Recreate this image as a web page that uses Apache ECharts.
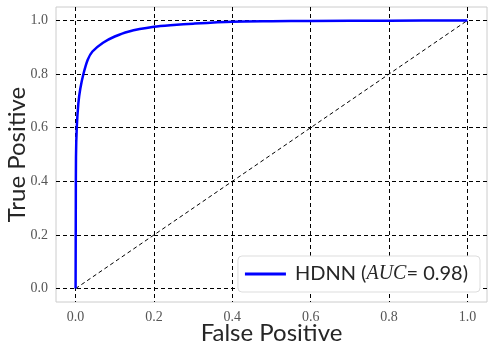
<!DOCTYPE html>
<html>
<head>
<meta charset="utf-8">
<script src="https://cdn.jsdelivr.net/npm/echarts@6/dist/echarts.min.js"></script>
<style>
  html, body { margin: 0; padding: 0; background: #fff; }
  #chart { width: 496px; height: 352px; }
</style>
</head>
<body>
<div id="chart"></div>
<script>
// ROC curve
var fpr = [0, 0.0005, 0.001, 0.003, 0.007, 0.012, 0.02, 0.031, 0.043, 0.07, 0.1, 0.134, 0.2, 0.25, 0.3, 0.4, 0.5, 0.6, 0.8, 1];
var tpr = [0, 0.3, 0.49, 0.6, 0.69, 0.745, 0.8, 0.853, 0.884, 0.917, 0.94, 0.958, 0.976, 0.983, 0.988, 0.995, 0.997, 0.998, 0.999, 1];
// chance line
var diagX = [0, 1];
var diagY = [0, 1];
var ticks = [0, 0.2, 0.4, 0.6, 0.8, 1.0];
var seriesName = 'HDNN';

var chart = echarts.init(document.getElementById('chart'));

function pairs(xs, ys) {
  return xs.map(function (x, i) { return [x, ys[i]]; });
}

var gridLine = { show: true, customValues: ticks, lineStyle: { color: '#000', type: [4, 3], width: 1 } };
var tickLabel = {
  customValues: ticks,
  fontFamily: 'Liberation Serif',
  fontSize: 14,
  color: '#555',
  formatter: function (v) { return v.toFixed(1); }
};

var option = {
  animation: false,
  grid: {
    left: 56, right: 9, top: 7, bottom: 50,
    outerBoundsMode: 'none', containLabel: false,
    show: true, borderColor: '#ccc', borderWidth: 1, backgroundColor: '#fff'
  },
  legend: {
    data: [{ name: seriesName, icon: 'rect' }],
    right: 16, bottom: 60,
    padding: [8, 12, 8, 7],
    itemWidth: 41, itemHeight: 3,
    backgroundColor: '#fff',
    borderColor: '#ddd', borderWidth: 1, borderRadius: 4,
    formatter: function () { return '{a|HDNN (}{b|AUC}{a|= 0.98)}'; },
    textStyle: {
      padding: [0, 0, 0, 4],
      rich: {
        a: { fontFamily: 'Lato', fontSize: 20, color: '#262626' },
        b: { fontFamily: 'Liberation Serif', fontStyle: 'italic', fontSize: 20, color: '#262626' }
      }
    }
  },
  xAxis: {
    type: 'value', min: -0.05, max: 1.05,
    name: 'False Positive', nameLocation: 'middle', nameGap: 31, nameMoveOverlap: false,
    nameTextStyle: { fontFamily: 'Lato', fontSize: 24, color: '#262626', verticalAlign: 'middle' },
    axisLine: { show: false }, axisTick: { show: false, customValues: ticks },
    axisLabel: tickLabel, splitLine: gridLine
  },
  yAxis: {
    type: 'value', min: -0.05, max: 1.05,
    name: 'True Positive', nameLocation: 'middle', nameGap: 39, nameMoveOverlap: false,
    nameTextStyle: { fontFamily: 'Lato', fontSize: 24, color: '#262626', verticalAlign: 'middle' },
    axisLine: { show: false }, axisTick: { show: false, customValues: ticks },
    axisLabel: tickLabel, splitLine: gridLine
  },
  series: [{
    name: seriesName,
    type: 'line',
    data: pairs(fpr, tpr),
    symbol: 'none',
    smooth: 0.3,
    lineStyle: { color: '#0000ff', width: 2.5 },
    itemStyle: { color: '#0000ff' },
    z: 3
  }, {
    name: 'chance',
    type: 'line',
    data: pairs(diagX, diagY),
    symbol: 'none',
    lineStyle: { color: '#000', width: 1, type: [4, 3] },
    z: 2
  }]
};

chart.setOption(option);
</script>
</body>
</html>
